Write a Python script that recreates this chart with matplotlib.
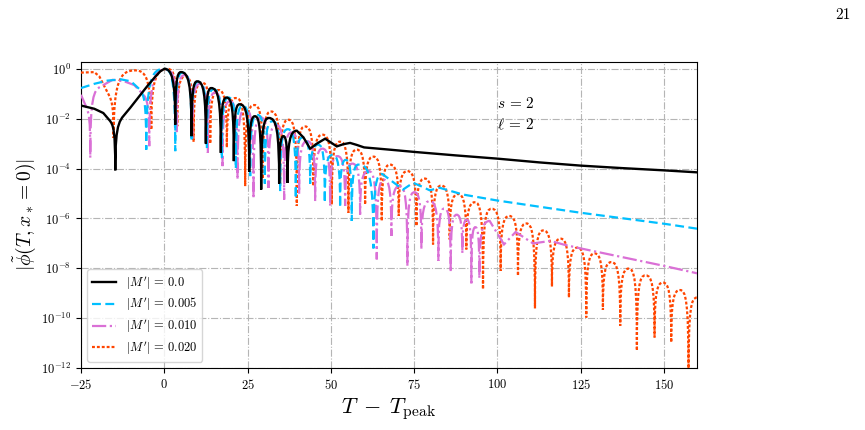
import numpy as np
import matplotlib
matplotlib.use('Agg')
import matplotlib.pyplot as plt
from matplotlib.path import Path
from matplotlib.patches import PathPatch
from matplotlib.ticker import NullLocator

plt.rcParams['font.family'] = 'serif'
plt.rcParams['font.serif'] = ['cmr10', 'DejaVu Serif']
plt.rcParams['mathtext.fontset'] = 'cm'
plt.rcParams['axes.formatter.use_mathtext'] = True

# turning points: time and log10 |phi|
black_t = [-25, -21, -18.3, -16.5, -14.7, -10.2, -7.5, -5.2, -2.8, -1.2, 0, 3.3, 5.0,
           8.2, 9.9, 12.5, 14.1, 17.0, 18.7, 20.9, 22.6, 25.5, 27.2, 29.1, 31.4, 34.5, 35.8,
           37.0, 39.8, 41.8, 43.8, 45.8, 48.3, 50.0, 51.8, 53.8, 55.8, 57.8, 60, 67.7, 75,
           87.5, 100, 112.5, 125, 137.5, 150, 160]
black_y = [-1.47, -1.6, -1.77, -2.05, -4.07, -1.56, -1.1, -0.71, -0.33, -0.1, 0, -2.24,
           -0.13, -2.7, -0.5, -3.0, -0.77, -3.37, -1.15, -3.7, -1.42, -4.13, -1.9, -4.84,
           -1.97, -4.6, -2.7, -4.57, -2.48, -2.75, -3.2, -3.0, -2.8, -2.95, -3.11, -3.02,
           -2.97, -3.05, -3.15, -3.24, -3.33, -3.47, -3.6, -3.75, -3.88, -3.98, -4.07, -4.15]

cyan_t = [-25, -21, -17, -13, -10, -7.8, -5.4, 0, 3.3, 5.5, 8.2, 10.2, 12.8, 14.8, 17.3, 19.3,
          21.5, 23.6, 25.8, 28.0, 30.2, 32.5, 34.8, 37.1, 39.5, 41.5, 43.8, 46.2, 48.2, 50.5,
          52.8, 54.5, 56.3, 58.3, 62.8, 65.5, 69.7, 71.7, 74.7, 77.0, 79.7, 82.7, 89.7, 100,
          112.7, 125, 150, 160]
cyan_y = [-0.77, -0.6, -0.47, -0.42, -0.5, -0.77, -3.24, 0, -3.3, -0.15, -2.9, -0.52, -3.2,
          -0.82, -3.6, -1.15, -4.0, -1.48, -4.3, -1.85, -4.6, -2.1, -4.9, -2.42, -5.2, -2.75,
          -4.6, -3.04, -5.37, -3.45, -5.56, -3.65, -6.1, -3.84, -7.2, -4.22, -4.64, -4.84,
          -4.57, -4.7, -4.87, -4.77, -5.04, -5.28, -5.53, -5.77, -6.21, -6.41]

magenta_t = [-25, -23.5, -22.2, -19, -15.5, -12, -9, -6.5, -4.5, 0.5, 3.8, 6.1, 8.4, 10.75,
             13.1, 15.3, 17.5, 19.75, 22, 24.4, 26.8, 29, 31.3, 33.6, 36, 38.2, 40.5, 42.9,
             45.3, 47.5, 49.8, 52, 54.3, 56.5, 58.8, 61.3, 63.8, 66, 68.2, 70.6, 73, 75.1,
             77.2, 79.7, 82.3, 84.1, 86, 87.8, 89.5, 90.8, 92.2, 93.4, 94.6, 97.7, 102,
             105.5, 110.7, 116, 120, 125, 137.5, 150, 160]
magenta_y = [-1.04, -1.5, -3.57, -0.7, -0.44, -0.5, -0.65, -1.0, -3.1, -0.02, -2.6, -0.25,
             -2.8, -0.6, -3.37, -0.95, -3.9, -1.3, -4.44, -1.62, -5.2, -1.95, -4.77, -2.25,
             -5.24, -2.55, -5.0, -2.9, -5.3, -3.2, -5.5, -3.5, -5.5, -3.8, -5.84, -4.1, -7.64,
             -4.45, -6.7, -4.7, -7.9, -4.95, -7.24, -5.3, -7.7, -5.6, -8.15, -5.85, -7.4,
             -6.05, -8.6, -6.35, -8.4, -6.1, -7.04, -6.54, -7.0, -6.9, -7.05, -7.2, -7.55,
             -7.9, -8.2]

orange_t = [-25, -21, -19.5, -17.2, -15.2, -8.7, -3.9, 1.0, 3.9, 6.3, 8.8, 11.3, 13.8, 16.3,
            18.8, 21.5, 24.3, 27.0, 29.6, 32.1, 34.8, 37.3, 39.8, 42.3, 44.8, 47.5, 50.3,
            52.8, 55.3, 57.8, 60.3, 62.8, 65.3, 67.8, 70.4, 73.0, 75.7, 78.2, 80.7, 83.2,
            85.7, 88.2, 90.7, 93.2, 95.7, 98.3, 101.0, 103.6, 106.2, 108.7, 111.3, 113.8,
            116.4, 119.0, 121.5, 124.0, 126.7, 129.2, 131.7, 134.2, 136.9, 139.4, 141.9,
            144.5, 147.2, 149.7, 152.2, 154.8, 157.4, 160.0]
orange_y = [-0.15, -0.13, -0.3, -0.9, -2.77, -0.06, -2.44, 0, -2.3, -0.3, -2.93, -0.55, -3.0,
            -0.85, -3.15, -1.17, -4.7, -1.45, -4.4, -1.71, -4.6, -2.04, -5.5, -2.31, -4.7,
            -2.64, -5.44, -2.92, -5.77, -3.24, -5.44, -3.52, -6.1, -3.84, -5.9, -4.1, -6.3,
            -4.4, -7.04, -4.68, -6.84, -5.02, -7.24, -5.35, -8.84, -5.61, -8.1, -5.9, -8.3,
            -6.2, -9.6, -6.48, -8.73, -6.81, -9.17, -7.17, -9.97, -7.4, -9.67, -7.75, -10.3,
            -8.01, -11.3, -8.28, -10.77, -8.57, -10.97, -8.87, -12.3, -9.17]

labels = [r"$|M'| \,=\, 0.0$", r"$|M'| \,=\, 0.005$", r"$|M'| \,=\, 0.010$", r"$|M'| \,=\, 0.020$"]
colors = ['black', '#00bfff', '#da70d6', '#ff4500']
styles = ['-', (0, (4.0, 2.0)), '-.', (0, (1.3, 0.9))]
widths = [1.7, 1.6, 1.6, 1.6]


def ring_path(t, ly):
    # sharp cusps at the zeros, smooth elsewhere
    n = len(t)
    dip = [False] * n
    for i in range(1, n - 1):
        if ly[i] < min(ly[i - 1], ly[i + 1]) - 0.8:
            dip[i] = True
    verts = [(t[0], 10 ** ly[0])]
    codes = [Path.MOVETO]
    for a in range(n - 1):
        b = a + 1
        if dip[a] or dip[b]:
            d, o = (a, b) if dip[a] else (b, a)
            nb = o + (o - d)
            slope = 0.0
            if 0 <= nb < n and not (ly[o] >= ly[nb]):
                slope = (ly[nb] - ly[o]) / (t[nb] - t[o])
            cd = (t[d], 10 ** (ly[o] - 0.4))
            co = (t[d] + 0.3 * (t[o] - t[d]), 10 ** (ly[o] - slope * 0.7 * (t[o] - t[d])))
            if d == a:
                verts += [cd, co, (t[b], 10 ** ly[b])]
            else:
                verts += [co, cd, (t[b], 10 ** ly[b])]
            codes += [Path.CURVE4] * 3
        else:
            verts.append((t[b], 10 ** ly[b]))
            codes.append(Path.LINETO)
    return Path(verts, codes)


fig = plt.figure(figsize=(8.65, 4.3), dpi=100)
ax = fig.add_axes([0.0936, 0.144, 0.7124, 0.712])
ax.set_yscale('log')
ax.set_xlim(-25, 160)
ax.set_ylim(1e-12, 1.9)

series = [(black_t, black_y), (cyan_t, cyan_y), (magenta_t, magenta_y), (orange_t, orange_y)]
order = [4, 3.3, 3.2, 3.1]
for i in range(len(series)):
    t, ly = series[i]
    patch = PathPatch(ring_path(t, ly), facecolor='none', edgecolor=colors[i],
                      lw=widths[i], linestyle=styles[i], zorder=order[i])
    ax.add_patch(patch)
    ax.plot([], [], color=colors[i], lw=widths[i], linestyle=styles[i], label=labels[i])

ax.set_xticks([-25, 0, 25, 50, 75, 100, 125, 150])
ax.set_yticks([10.0 ** k for k in range(-12, 1, 2)])
ax.yaxis.set_minor_locator(NullLocator())
ax.tick_params(labelsize=9)
ax.grid(True, linestyle='-.', color='#b5b5b5', lw=0.8)
ax.set_axisbelow(True)

ax.set_xlabel(r'$T \;-\; T_{\rm peak}$', fontsize=16, labelpad=3)
ax.set_ylabel(r'$|\tilde{\phi}(T, x_* = 0)|$', fontsize=14, labelpad=2)
ax.text(100, 10 ** -1.4, r'$s \,=\, 2$', fontsize=11, va='center')
ax.text(100, 10 ** -2.25, r'$\ell \,=\, 2$', fontsize=11, va='center')
ax.legend(loc='lower left', fontsize=9, handlelength=1.9, labelspacing=0.35, framealpha=0.8)

fig.text(0.983, 0.965, '21', fontsize=11, ha='right', va='center')

plt.savefig('out.png', dpi=100)
